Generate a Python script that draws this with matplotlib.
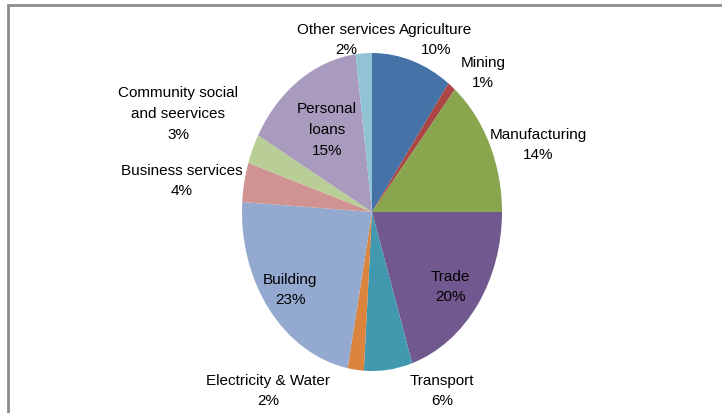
import matplotlib
matplotlib.use("Agg")
import matplotlib.pyplot as plt
from matplotlib.patches import Rectangle

# sectors, clockwise from 12 o'clock
sectors = ["Agriculture", "Mining", "Manufacturing", "Trade", "Transport",
           "Electricity & Water", "Building", "Business services",
           "Community social\nand seervices", "Personal\nloans", "Other services"]
shares = [10, 1, 14, 20, 6, 2, 23, 4, 3, 15, 2]
colors = ["#4572A7", "#AA4643", "#89A54E", "#71588F", "#4198AF", "#DB843D",
          "#93A9CF", "#D19392", "#B9CD96", "#A99BBD", "#91C3D5"]

# label centres in pixels (x, y from top)
label_px = [(436, 40), (483, 73), (538, 145), (450, 287), (442, 391),
            (268, 391), (290, 290), (182, 181), (178, 114), (327, 130), (346, 40)]

W, H = 722, 414
fig = plt.figure(figsize=(W / 100, H / 100), dpi=100)

# pie is drawn squashed horizontally like the reference
cx, cy, rx, ry = 372, 213, 130, 159
ax = fig.add_axes([(cx - rx) / W, 1 - (cy + ry) / H, 2 * rx / W, 2 * ry / H])
ax.pie(shares, colors=colors, startangle=90, counterclock=False,
       wedgeprops=dict(linewidth=0))
ax.set_aspect('auto')
ax.set_xlim(-1, 1)
ax.set_ylim(-1, 1)
ax.axis('off')

font = ['Liberation Sans Narrow', 'Liberation Sans', 'DejaVu Sans']
for name, v, (px, py) in zip(sectors, shares, label_px):
    fig.text(px / W, 1 - py / H, f"{name}\n{v}%", ha='center', va='center',
             fontsize=11, family=font, color='black', linespacing=1.6)

# grey frame, cut off at right and bottom
fig.patches.append(Rectangle((8 / W, -0.1), 1.2, 1 - 6 / H + 0.1, fill=False,
                             edgecolor='#8c8c8c', linewidth=2,
                             transform=fig.transFigure))

fig.savefig("out.png", dpi=100)
